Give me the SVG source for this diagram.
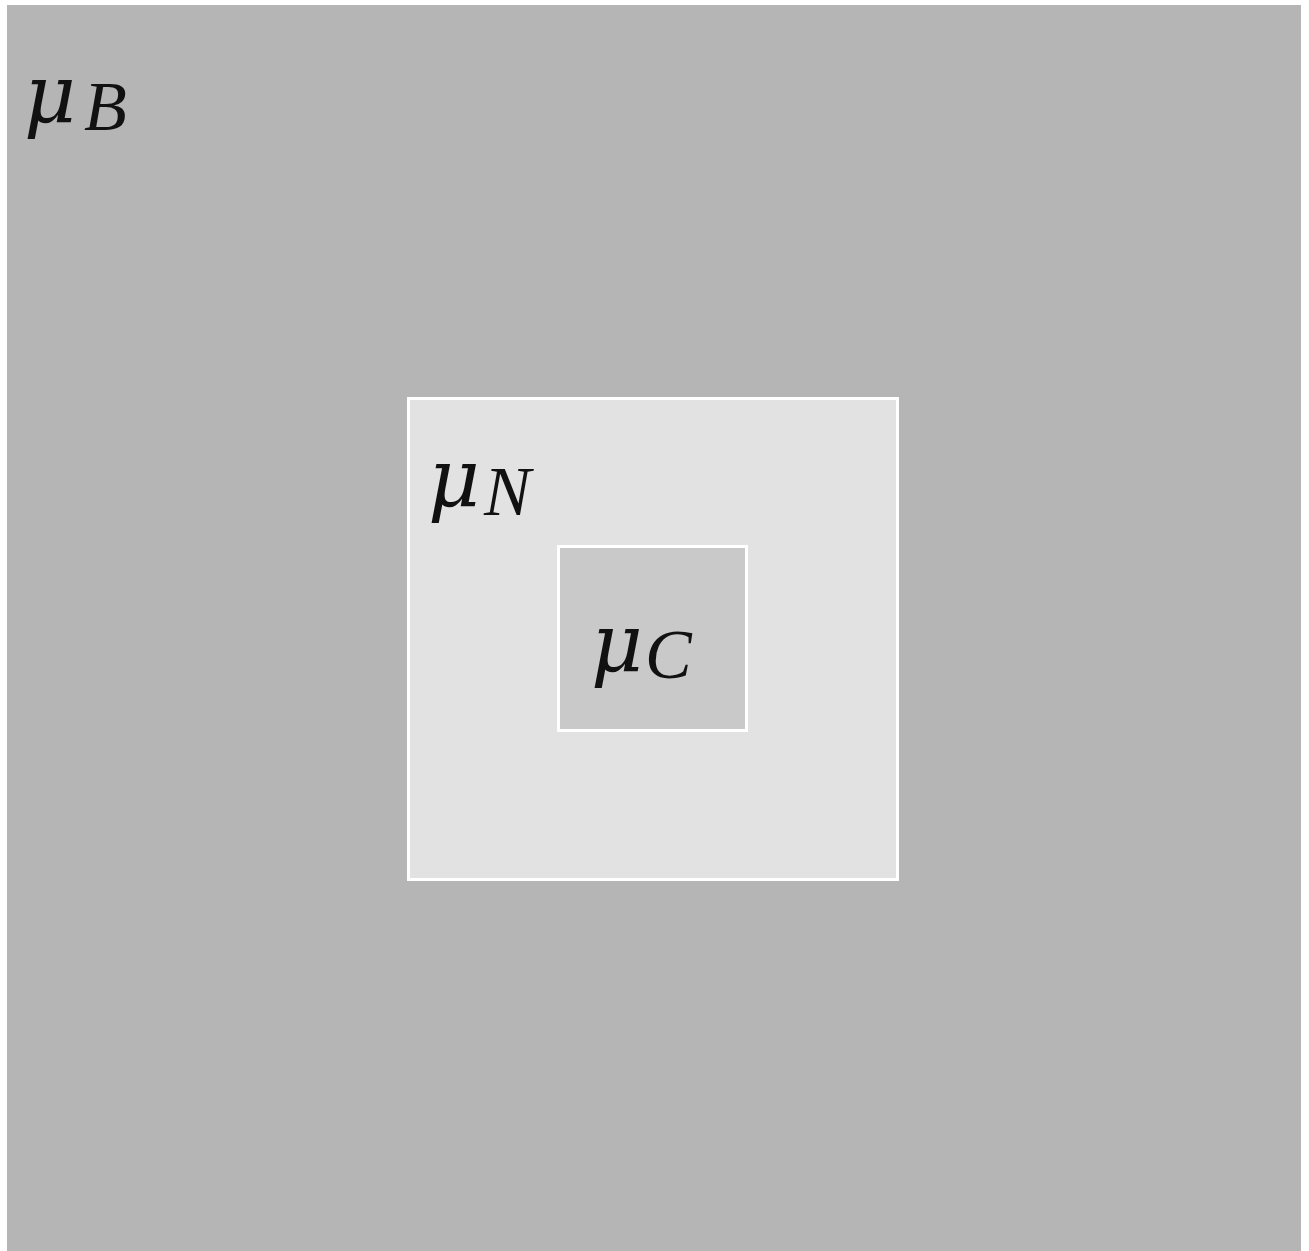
<svg xmlns="http://www.w3.org/2000/svg" width="1309" height="1251" viewBox="0 0 1309 1251">
<style>
.mu{font-family:"DejaVu Serif",serif;font-style:italic;font-size:80px;fill:#111}
.sub{font-family:"Liberation Serif",serif;font-style:italic;font-size:70px;fill:#111}
</style>
<rect x="0" y="0" width="1309" height="1251" fill="#ffffff"/>
<g id="bulk">
<rect x="7" y="5" width="1294" height="1246" fill="#b5b5b5"/>
<text class="mu" x="24" y="122">μ</text><text class="sub" x="84" y="130">B</text>
</g>
<g id="nucleus">
<rect x="408.5" y="398.5" width="489" height="481" fill="#e2e2e2" stroke="#ffffff" stroke-width="3"/>
<text class="mu" x="428" y="506">μ</text><text class="sub" x="484" y="515">N</text>
</g>
<g id="core">
<rect x="558.5" y="546.5" width="188" height="184" fill="#c9c9c9" stroke="#ffffff" stroke-width="3"/>
<text class="mu" x="591" y="671">μ</text><text class="sub" x="645" y="678">C</text>
</g>
<g id="connectors"/>
</svg>
